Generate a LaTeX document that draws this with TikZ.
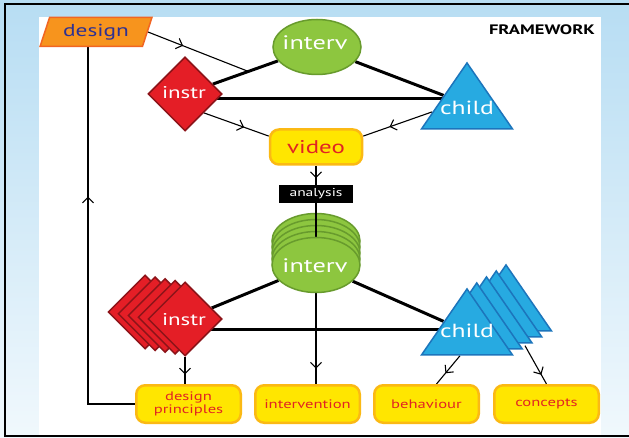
\documentclass[tikz,border=0pt]{standalone}
\usepackage{fontspec}
\setmainfont{PT Sans}[FakeStretch=1.35]
\usetikzlibrary{shapes.geometric,arrows.meta,decorations.markings,calc}

\pgfdeclarelayer{back}
\pgfdeclarelayer{links}
\pgfsetlayers{back,links,main}

\definecolor{frameblue}{RGB}{183,221,243}
\definecolor{intervgreen}{RGB}{141,198,63}
\definecolor{intervedge}{RGB}{104,155,45}
\definecolor{instrred}{RGB}{228,30,38}
\definecolor{instredge}{RGB}{140,20,25}
\definecolor{childblue}{RGB}{39,170,225}
\definecolor{childedge}{RGB}{28,117,188}
\definecolor{boxyellow}{RGB}{255,230,0}
\definecolor{boxedge}{RGB}{251,185,20}
\definecolor{designorange}{RGB}{247,148,29}
\definecolor{designedge}{RGB}{241,101,34}
\definecolor{designtext}{RGB}{46,49,146}
\definecolor{labelred}{RGB}{225,35,35}

\begin{document}
\begin{tikzpicture}[x=1pt, y=-1pt,
    intervnode/.style={ellipse, fill=intervgreen, draw=intervedge, line width=1.5pt, minimum width=88pt, minimum height=55pt, inner sep=0pt},
    instrnode/.style={diamond, fill=instrred, draw=instredge, line width=1.5pt, minimum width=74pt, minimum height=74pt, inner sep=0pt},
    childnode/.style={isosceles triangle, isosceles triangle stretches, shape border rotate=90, fill=childblue, draw=childedge, line width=1.5pt, minimum width=91pt, minimum height=66pt, inner sep=0pt, anchor=apex},
    shapetext/.style={text=white, anchor=base, inner sep=0pt, font=\fontsize{#1}{#1}\selectfont},
    shapetext/.default=19,
    outbox/.style={rounded corners=9pt, fill=boxyellow, draw=boxedge, line width=2.5pt, minimum width=104.5pt, minimum height=37.5pt, inner sep=1pt, text=labelred, font=\fontsize{12.3}{12.5}\selectfont, align=center},
    tie/.style={line width=3pt},
    flow/.style={line width=1.1pt, postaction={decorate}, decoration={markings, mark=at position #1 with {\arrow{Straight Barb[length=5.5pt,width=11pt]}}}},
    flow/.default=0.5]
    \useasboundingbox (0,0) rectangle (629,438);
    \begin{pgfonlayer}{back}
        \shade[top color=frameblue, bottom color=frameblue!20] (0,0) rectangle (629,438);
        \fill[white] (39,17) rectangle (601,435);
        \draw[line width=2.5pt] (629,4) -- (5,4) -- (5,436) -- (629,436);
    \end{pgfonlayer}

    \node[font=\fontsize{13.7}{14}\selectfont\bfseries] (title) at (542,30) {FRAMEWORK};

    % recording
    \node[trapezium, trapezium left angle=67, trapezium right angle=113, trapezium stretches, minimum width=112pt, minimum height=29pt, inner sep=0pt, fill=designorange, draw=designedge, line width=1.5pt, text=designtext, font=\fontsize{17.3}{18}\selectfont] (design) at (96,32) {design};
    \node[intervnode] (interv) at (317,47) {};
    \node[shapetext=19.5] (intervtxt) at (315,50) {interv};
    \node[instrnode] (instr) at (185,94) {};
    \node[shapetext=17] (instrtxt) at (184,99) {instr};
    \node[childnode] (child) at (467,61) {};
    \node[shapetext] (childtxt) at (467,115) {child};
    \node[outbox, minimum width=92pt, minimum height=35pt, font=\fontsize{18.4}{19}\selectfont] (video) at (316,147) {video};
    \node[fill=black, text=white, minimum width=74pt, minimum height=18pt, inner sep=0pt, font=\fontsize{11.5}{12}\selectfont] (analysis) at (316,194) {analysis};

    % many sessions
    \foreach \i in {4,3,2,1}
        \node[intervnode] (intervS\i) at (316,{265-6*\i}) {};
    \draw[line width=1.1pt] (analysis) -- (intervS1.center);
    \node[intervnode] (intervS) at (316,265) {};
    \node[shapetext=19.5] (intervStxt) at (315,273) {interv};
    \foreach \i in {4,3,2,1}
        \node[instrnode] (instrS\i) at ({185-10*\i},{319-1.75*\i}) {};
    \node[instrnode] (instrS) at (185,319) {};
    \node[shapetext=17] (instrStxt) at (184,325) {instr};
    \foreach \i in {4,3,2,1}
        \node[childnode] (childS\i) at ({467+9.75*\i},{287-6*\i}) {};
    \node[childnode] (childS) at (467,287) {};
    \node[shapetext] (childStxt) at (467,337) {child};

    % outcomes
    \node[outbox] (principles) at (188.5,404) {design\\principles};
    \node[outbox] (intervention) at (307.5,404) {intervention};
    \node[outbox] (behaviour) at (426.5,404) {behaviour};
    \node[outbox] (concepts) at (546.5,404) {concepts};

    \begin{pgfonlayer}{links}
        \draw[tie] (instr) -- (interv);
        \draw[tie] (interv) -- (child.left side);
        \coordinate (tieT) at ([yshift=-5pt]instr.center);
        \draw[tie] (tieT) -- (tieT -| child.apex);
        \draw[tie] (instrS) -- (intervS);
        \draw[tie] (intervS) -- (childS.left side);
        \coordinate (tieB) at ([yshift=-10pt]instrS.center);
        \draw[tie] (tieB) -- (tieB -| childS.apex);

        \draw[flow=0.35] (design.east) -- ($(instr)!0.48!(interv)$);
        \draw[flow=0.62] (instr.south east) -- (video.167);
        \draw[flow=0.62] ($(child.apex)!0.74!(child.left corner)$) -- (video.13);
        \draw[flow=0.65] (video) -- (analysis);
        \draw[flow=0.83] (intervS) -- (intervS |- intervention.north);
        \draw[flow=0.65] (instrS) -- (instrS |- principles.north);
        \draw[flow=0.62] ([xshift=-7pt]childS.lower side) -- ([xshift=10pt]behaviour.north);
        \draw[flow=0.76] ([xshift=58pt,yshift=10pt]childS.lower side) -- (concepts.north);
        \draw[flow=0.63] (principles.west) -| ([xshift=-8pt]design.south);
    \end{pgfonlayer}
\end{tikzpicture}
\end{document}
